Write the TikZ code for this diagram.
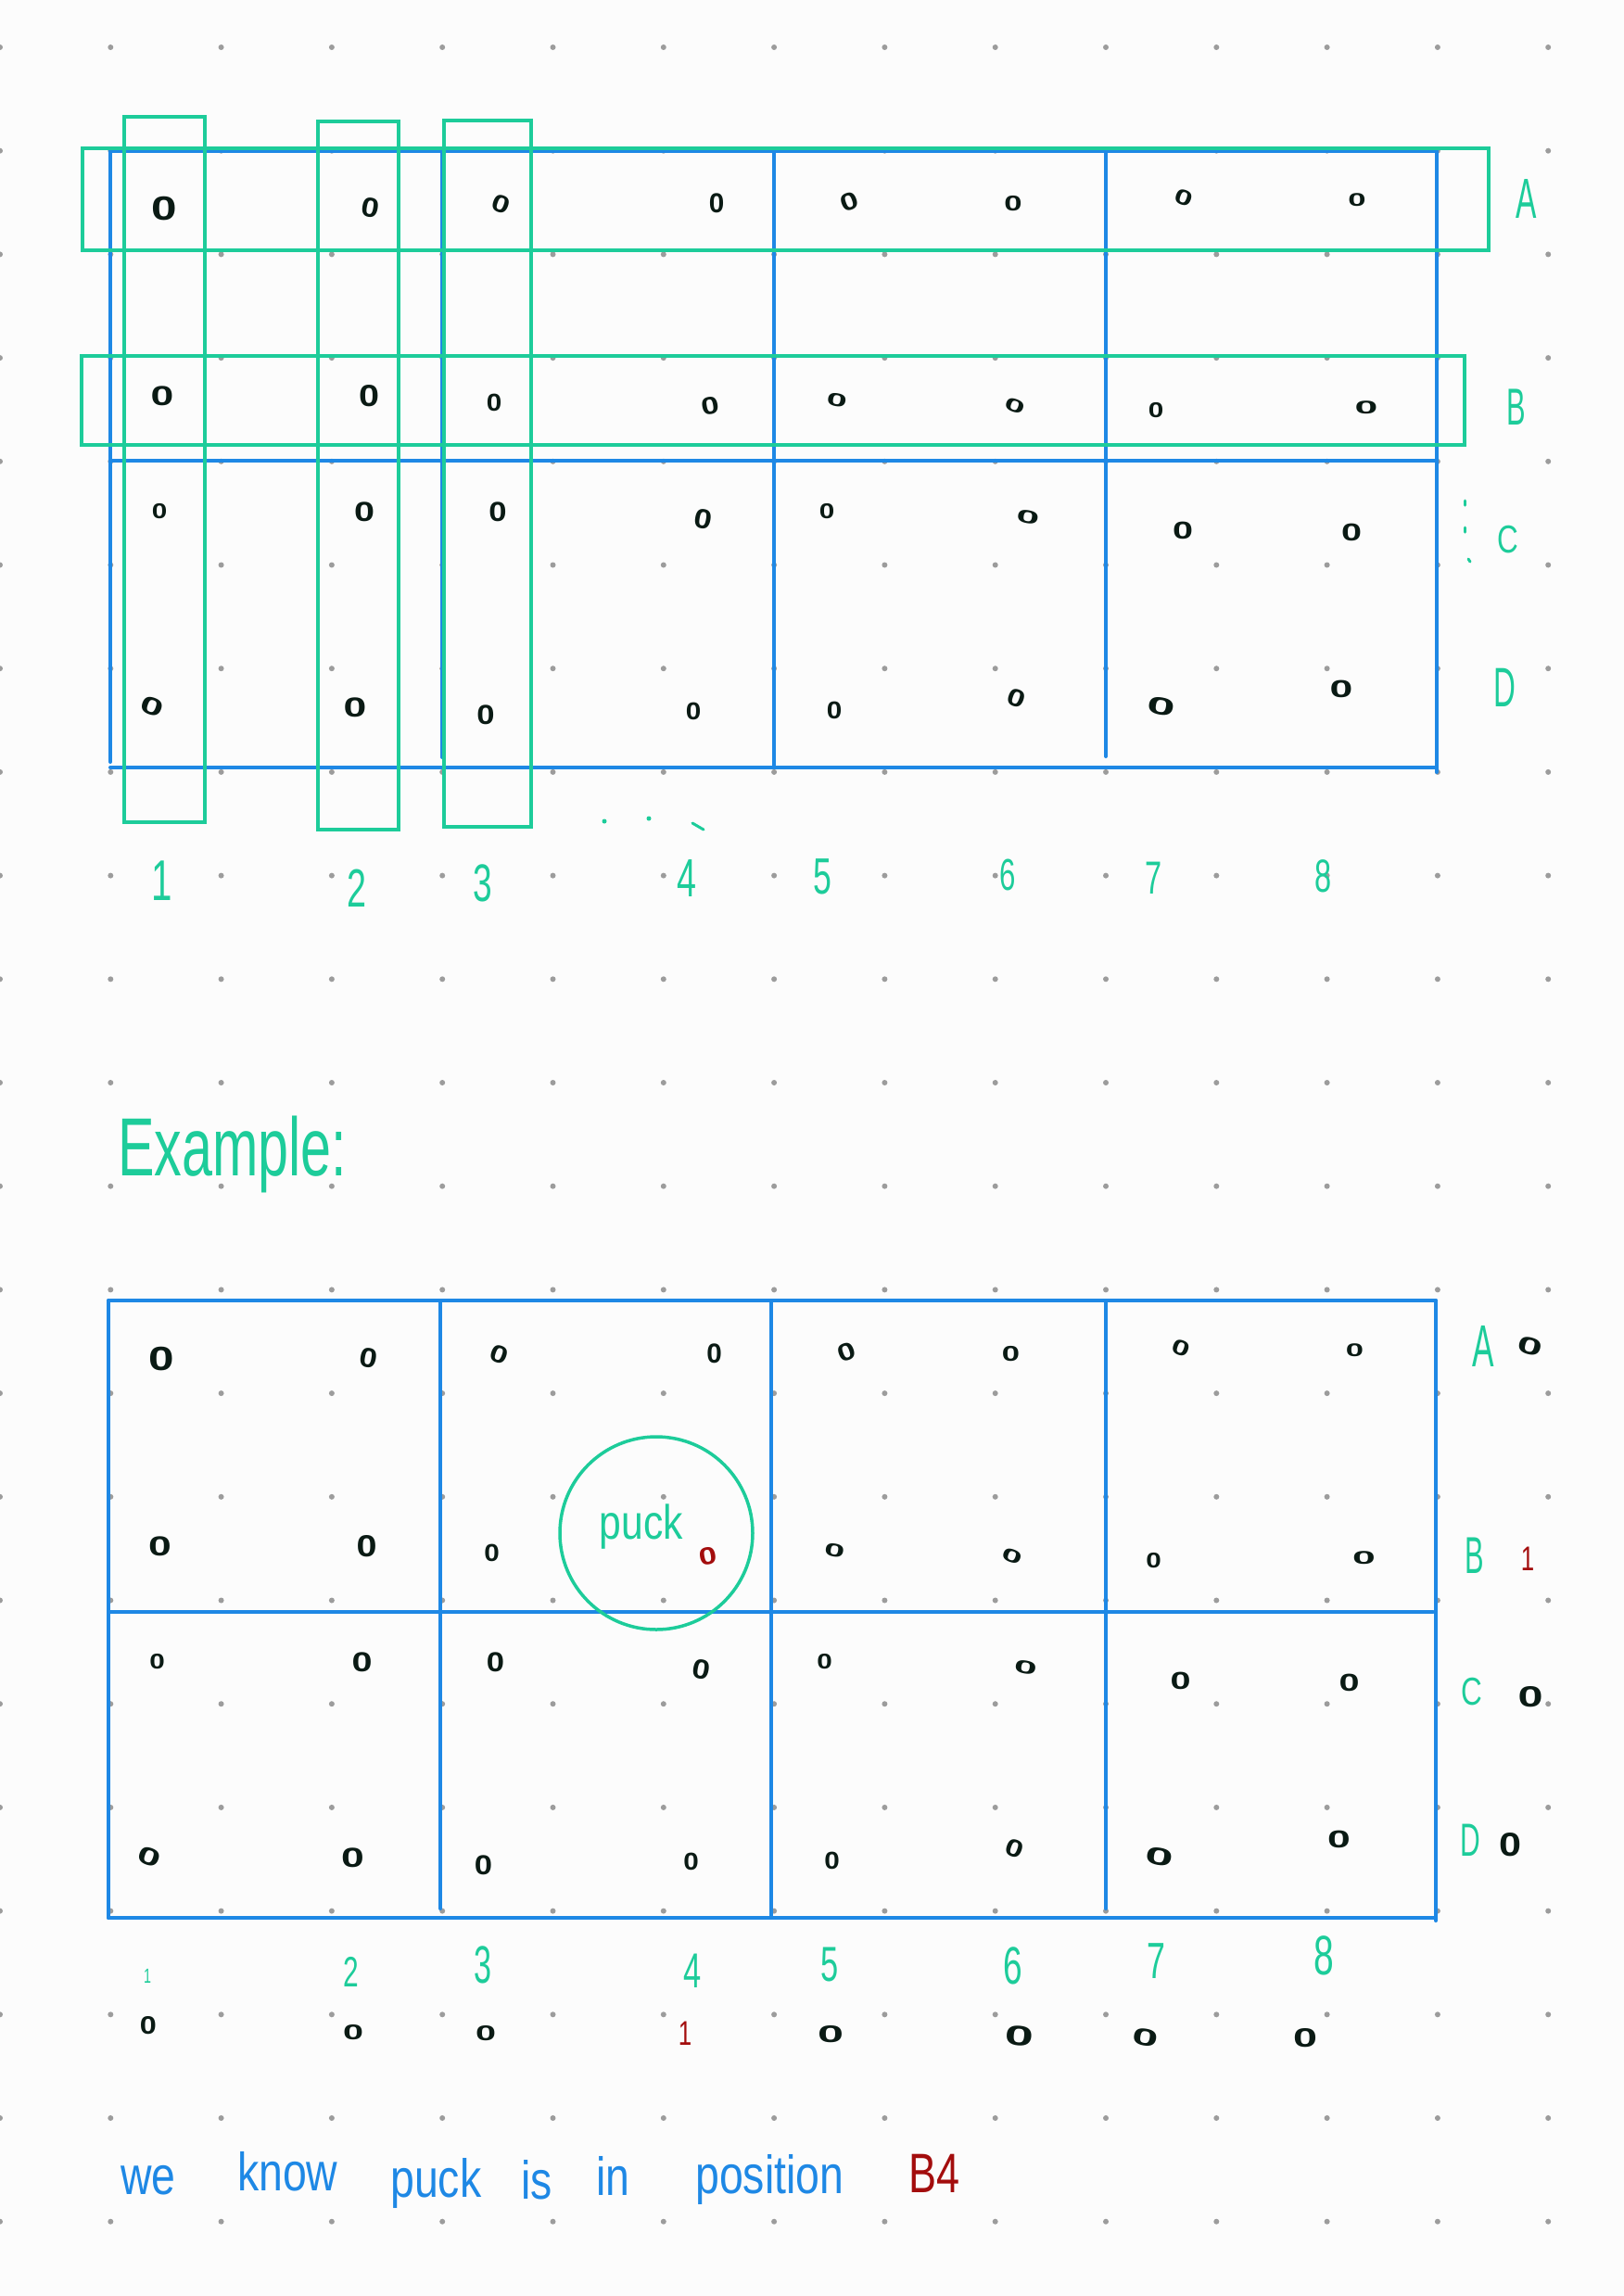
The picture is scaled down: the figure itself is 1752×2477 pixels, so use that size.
\documentclass[tikz,border=0pt]{standalone}
\usepackage{fontspec}
\setmainfont{Liberation Sans}
\usepackage{graphicx}
\usetikzlibrary{shapes.geometric}
\definecolor{paper}{HTML}{FCFCFC}
\definecolor{dotgray}{HTML}{9C9C9C}
\definecolor{gridblue}{HTML}{1E88E5}
\definecolor{hlgreen}{HTML}{1DCC9A}
\definecolor{ink}{HTML}{0A1A14}
\definecolor{puckred}{HTML}{A30D0D}
\newcommand\hsq[2]{\scalebox{#1}[1]{#2}}
\newcommand\marklist{A/1/177/225/10/11/0,A/2/400/224/7/9/-10,A/3/541/220/7/8/-20,A/4/773/219/6/9/0,A/5/916/218/7/8/20,A/6/1093/220/7/7/0,A/7/1277/213/7/7/-20,A/8/1464/216/7/6/0,B/1/175/427/9/9/0,B/2/398/427/8/10/0,B/3/533/434/6/8/0,B/4/766/438/7/8/10,B/5/903/432/8/6/-10,B/6/1095/438/8/6/-20,B/7/1247/443/6/7/0,B/8/1474/440/9/6/0,C/1/172/552/6/7/0,C/2/393/552/8/9/0,C/3/537/552/7/9/0,C/4/759/560/7/9/-10,C/5/892/552/6/7/0,C/6/1109/558/9/6/-10,C/7/1276/572/8/8/0,C/8/1458/574/8/8/0,D/1/164/762/9/8/-20,D/2/383/763/9/9/0,D/3/524/771/7/9/0,D/4/748/767/6/8/0,D/5/900/766/6/8/0,D/6/1097/753/7/8/-20,D/7/1253/762/11/8/-10,D/8/1447/743/9/8/0}
\newcommand\drawmarks[1]{%
  \foreach \rw/\cl/\x/\y/\a/\b/\r in \marklist {%
    \edef\cellid{\rw\cl}%
    \ifx\cellid\puckid \def\mc{puckred}\else\def\mc{ink}\fi
    \pgfmathsetmacro\bw{2.75*\a}%
    \pgfmathsetmacro\bh{2.3*\b}%
    \node[zero, text=\mc, rotate=\r] (#1\rw\cl) at (\x,\y) {\resizebox{\bw pt}{\bh pt}{0}};
  }%
}
\begin{document}
\begin{tikzpicture}[x=1pt,y=-1pt,
  gridline/.style={gridblue, line width=4pt, line cap=round},
  hlbox/.style={hlgreen, line width=4.5pt},
  lbl/.style={hlgreen, inner sep=0pt, font=\fontsize{#1}{#1}\selectfont},
  lbl/.default=56,
  zero/.style={inner sep=0pt, font=\bfseries},
  sumzero/.style={inner sep=0pt, text=ink, font=\bfseries},
  redone/.style={inner sep=0pt, text=puckred, font=\fontsize{37}{37}\selectfont},
  sent/.style={gridblue, inner sep=0pt, anchor=base west, font=\fontsize{58}{58}\selectfont},
  stray/.style={hlgreen, line width=3pt, line cap=round}]
\fill[paper] (0,0) rectangle (1752,2477);
\useasboundingbox (0,0) rectangle (1752,2477);
% dot grid
\foreach \i in {0,...,14} \foreach \j in {0,...,21}
  \fill[dotgray] (119.3*\i, 51+111.7*\j) circle[radius=3];
% ---------- top grid ----------
\draw[gridline] (119,163) -- (1550,163);
\draw[gridline] (119,497) -- (1550,497);
\draw[gridline] (119,828) -- (1550,828);
\draw[gridline] (119,163) -- (119,822);
\draw[gridline] (477,163) -- (477,817);
\draw[gridline] (835,163) -- (835,828);
\draw[gridline] (1193,163) -- (1193,816);
\draw[gridline] (1550,163) -- (1550,833);
% green highlight boxes
\draw[hlbox] (89,160) rectangle (1606,270);
\draw[hlbox] (88,384) rectangle (1580,480);
\draw[hlbox] (134,126) rectangle (221,887);
\draw[hlbox] (343,131) rectangle (430,895);
\draw[hlbox] (479,130) rectangle (573,892);
% marks
\def\puckid{none}
\drawmarks{t}
% row labels
\node[lbl=61] (tA) at (1647,215) {\hsq{0.55}{A}};
\node[lbl=56] (tB) at (1636,439) {\hsq{0.55}{B}};
\node[lbl=42] (tC) at (1627,582) {\hsq{0.75}{C}};
\node[lbl=60] (tD) at (1623,742) {\hsq{0.55}{D}};
\draw[stray] (1580,540) -- (1580,545);
\draw[stray] (1580,569) -- (1580,574);
\draw[stray] (1584,603) -- (1586,606);
% column labels
\node[lbl=62] (t1) at (175,950) {\hsq{0.65}{1}};
\node[lbl=58] (t2) at (385,958) {\hsq{0.65}{2}};
\node[lbl=57] (t3) at (521,953) {\hsq{0.65}{3}};
\node[lbl=58] (t4) at (741,948) {\hsq{0.65}{4}};
\node[lbl=55] (t5) at (887,946) {\hsq{0.65}{5}};
\node[lbl=48] (t6) at (1087,944) {\hsq{0.65}{6}};
\node[lbl=50] (t7) at (1245,947) {\hsq{0.65}{7}};
\node[lbl=50] (t8) at (1428,945) {\hsq{0.65}{8}};
\fill[hlgreen] (652,886) circle[radius=2.5];
\fill[hlgreen] (700,883) circle[radius=2.5];
\draw[stray] (747,888) -- (759,895);
% ---------- Example ----------
\node[lbl=89, anchor=base west] (example) at (127,1268) {\hsq{0.666}{Example:}};
% bottom grid
\draw[gridline] (117,1403) -- (1549,1403);
\draw[gridline] (117,1739) -- (1546,1739);
\draw[gridline] (117,2069) -- (1549,2069);
\draw[gridline] (117,1403) -- (117,2069);
\draw[gridline] (475,1403) -- (475,2059);
\draw[gridline] (832,1403) -- (832,2069);
\draw[gridline] (1193,1403) -- (1193,2059);
\draw[gridline] (1549,1403) -- (1549,2072);
\begin{scope}[shift={(-2.5,1241)}]
  \def\puckid{B4}
  \drawmarks{e}
\end{scope}
% puck circle
\node[circle, draw=hlgreen, line width=3.5pt, minimum size=208pt, inner sep=0pt] (puck) at (708,1654) {};
\node[lbl=52, anchor=base] (pucktxt) at (692,1660) {\hsq{0.82}{puck}};
% row labels with values
\node[lbl=64] (eA) at (1600,1452) {\hsq{0.55}{A}};
\node[lbl=56] (eB) at (1591,1678) {\hsq{0.55}{B}};
\node[lbl=42] (eC) at (1588,1825) {\hsq{0.75}{C}};
\node[lbl=50] (eD) at (1586,1985) {\hsq{0.6}{D}};
\node[sumzero, rotate=-15] (vA) at (1651,1452) {\resizebox{27pt}{18pt}{0}};
\node[redone] (vB) at (1648,1682) {\hsq{0.7}{1}};
\node[sumzero] (vC) at (1651,1831) {\resizebox{27pt}{22pt}{0}};
\node[sumzero] (vD) at (1629,1990) {\resizebox{24pt}{25pt}{0}};
% column labels bottom
\node[lbl=22] (e1) at (159,2132) {\hsq{0.65}{1}};
\node[lbl=46] (e2) at (379,2127) {\hsq{0.65}{2}};
\node[lbl=57] (e3) at (521,2120) {\hsq{0.6}{3}};
\node[lbl=53] (e4) at (747,2126) {\hsq{0.65}{4}};
\node[lbl=53] (e5) at (895,2119) {\hsq{0.65}{5}};
\node[lbl=57] (e6) at (1093,2121) {\hsq{0.65}{6}};
\node[lbl=55] (e7) at (1247,2116) {\hsq{0.65}{7}};
\node[lbl=60] (e8) at (1428,2110) {\hsq{0.65}{8}};
% column values
\node[sumzero] (w1) at (160,2185) {\resizebox{18pt}{19pt}{0}};
\node[sumzero] (w2) at (381,2193) {\resizebox{22pt}{16pt}{0}};
\node[sumzero] (w3) at (524,2194) {\resizebox{22pt}{16pt}{0}};
\node[redone] (w4) at (739,2194) {\hsq{0.7}{1}};
\node[sumzero] (w5) at (896,2195) {\resizebox{28pt}{18pt}{0}};
\node[sumzero, rotate=-5] (w6) at (1100,2197) {\resizebox{31pt}{21pt}{0}};
\node[sumzero, rotate=-10] (w7) at (1236,2198) {\resizebox{28pt}{18pt}{0}};
\node[sumzero] (w8) at (1408,2199) {\resizebox{26pt}{20pt}{0}};
% sentence
\node[sent] (s1) at (130,2367) {\hsq{0.8}{we}};
\node[sent] (s2) at (256,2363) {\hsq{0.8}{know}};
\node[sent] (s3) at (421,2370) {\hsq{0.8}{puck}};
\node[sent] (s4) at (562,2372) {\hsq{0.8}{is}};
\node[sent] (s5) at (643,2368) {\hsq{0.8}{in}};
\node[sent] (s6) at (750,2366) {\hsq{0.8}{position}};
\node[sent, text=puckred, font=\fontsize{60}{60}\selectfont] (s7) at (980,2365) {\hsq{0.75}{B4}};
\end{tikzpicture}
\end{document}
